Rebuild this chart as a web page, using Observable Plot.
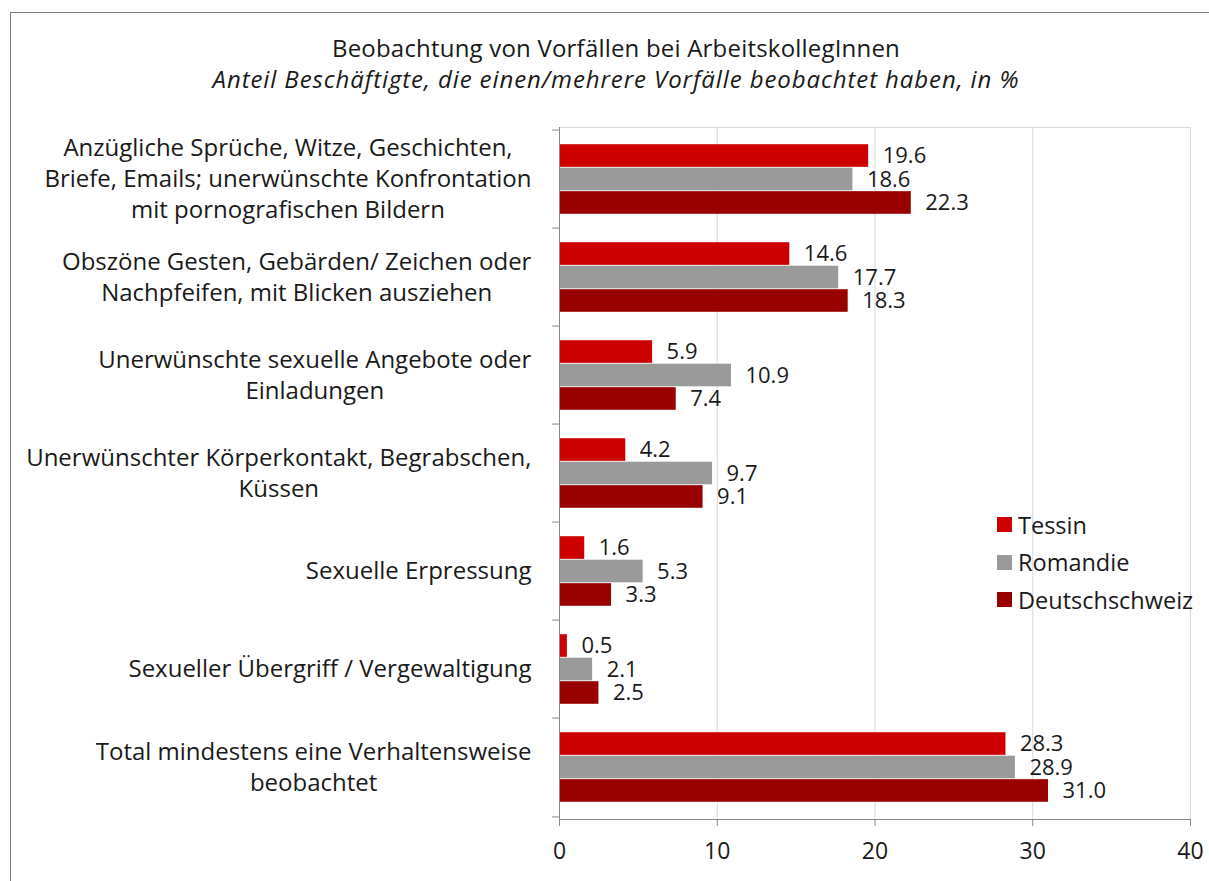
<!DOCTYPE html>
<html>
<head>
<meta charset="utf-8">
<script src="https://cdn.jsdelivr.net/npm/d3@7"></script>
<script src="https://cdn.jsdelivr.net/npm/@observablehq/plot@0.6"></script>
<style>
  html, body { margin: 0; padding: 0; background: #fff; overflow: hidden; }
  body { width: 1209px; height: 881px; position: relative; font-family: "Open Sans", sans-serif; color: #1a1a1a; }
  #frame { position: absolute; left: 10px; top: 12px; width: 1400px; height: 1000px; border-left: 1px solid #808080; border-top: 1px solid #808080; }
  .title { position: absolute; left: 0; width: 1232px; text-align: center; font-size: 24px; line-height: 31px; white-space: nowrap; }
  #chart { position: absolute; left: 0; top: 100px; }
  #legend { position: absolute; left: 997px; top: 506px; font-size: 23.5px; }
  #legend .row { display: flex; align-items: center; height: 37.5px; }
  #legend .sw { width: 15px; height: 15px; margin-right: 6px; }
</style>
</head>
<body>
<div id="frame"></div>
<div class="title" style="top:32px;letter-spacing:0.2px">Beobachtung von Vorfällen bei ArbeitskollegInnen</div>
<div class="title" style="top:63px;font-style:italic;letter-spacing:0.9px">Anteil Beschäftigte, die einen/mehrere Vorfälle beobachtet haben, in %</div>
<div id="chart"></div>
<div id="legend"></div>
<script>
const categories = [
  "Anzügliche Sprüche, Witze, Geschichten,\nBriefe, Emails; unerwünschte Konfrontation\nmit pornografischen Bildern",
  "Obszöne Gesten, Gebärden/ Zeichen oder\nNachpfeifen, mit Blicken ausziehen",
  "Unerwünschte sexuelle Angebote oder\nEinladungen",
  "Unerwünschter Körperkontakt, Begrabschen,\nKüssen",
  "Sexuelle Erpressung",
  "Sexueller Übergriff / Vergewaltigung",
  "Total mindestens eine Verhaltensweise\nbeobachtet"
];
const seriesNames = ["Tessin", "Romandie", "Deutschschweiz"];
const tessin = [19.6, 14.6, 5.9, 4.2, 1.6, 0.5, 28.3];
const romandie = [18.6, 17.7, 10.9, 9.7, 5.3, 2.1, 28.9];
const deutschschweiz = [22.3, 18.3, 7.4, 9.1, 3.3, 2.5, 31.0];
const seriesColors = ["#cc0000", "#9a9a9a", "#990000"];
const xTicks = [0, 10, 20, 30, 40];

const seriesValues = [tessin, romandie, deutschschweiz];
const rows = [];
seriesNames.forEach((s, si) => categories.forEach((c, ci) => rows.push({series: s, cat: c, value: seriesValues[si][ci]})));

const width = 1209, height = 781;
const marginTop = 27, marginBottom = 62, marginLeft = 559, marginRight = 19;
const step = (height - marginTop - marginBottom) / categories.length;
const barH = step * 0.2375;
const inset = (step - barH) / 2;
const axisColor = "#868686";
const gridColor = "#d9d9d9";

const barMarks = [];
const labelMarks = [];
seriesNames.forEach((s, si) => {
  const dy = (si - 1) * barH;
  const data = rows.filter(d => d.series === s);
  barMarks.push(Plot.barX(data, {x: "value", y: "cat", fill: seriesColors[si], insetTop: inset, insetBottom: inset, dy}));
  labelMarks.push(Plot.text(data, {x: "value", y: "cat", text: d => d.value.toFixed(1), textAnchor: "start", dx: 14, dy, fontSize: 22, fill: "#1a1a1a"}));
});

const plot = Plot.plot({
  width, height, marginTop, marginBottom, marginLeft, marginRight,
  style: {fontFamily: "'Open Sans', sans-serif", fontSize: "24px", color: "#1a1a1a", background: "transparent"},
  x: {domain: [0, 40]},
  y: {domain: categories, padding: 0},
  marks: [
    Plot.gridX(xTicks.slice(1), {stroke: gridColor, strokeOpacity: 1}),
    Plot.frame({anchor: "top", stroke: gridColor}),
    ...barMarks,
    ...labelMarks,
    Plot.ruleX([0], {stroke: axisColor}),
    Plot.frame({anchor: "bottom", stroke: axisColor}),
    Plot.axisX(xTicks, {tickSize: 7, tickPadding: 16, fontSize: 23, stroke: axisColor, fill: "#1a1a1a", label: null}),
    Plot.axisY(categories, {tickSize: 7, tickFormat: () => "", dy: -step / 2, stroke: axisColor, label: null}),
    Plot.axisY([categories[categories.length - 1]], {tickSize: 7, tickFormat: () => "", dy: step / 2, stroke: axisColor, label: null}),
    Plot.axisY(categories, {tickSize: 0, tickPadding: 28, fontSize: 24, lineHeight: 1.29, dy: -2, fill: "#1a1a1a", label: null})
  ]
});
document.getElementById("chart").appendChild(plot);

// center each multi-line category label as a block whose right edge sits at the tick padding
d3.select(plot).selectAll('g[aria-label="y-axis tick label"] text').each(function() {
  const w = this.getBBox().width;
  if (!w) return;
  this.setAttribute("text-anchor", "middle");
  const t = this.getAttribute("transform") || "";
  this.setAttribute("transform", t + ` translate(${-w / 2},0)`);
});

const legend = d3.select("#legend");
seriesNames.forEach((s, i) => {
  const row = legend.append("div").attr("class", "row");
  row.append("div").attr("class", "sw").style("background", seriesColors[i]);
  row.append("span").text(s);
});
</script>
</body>
</html>
